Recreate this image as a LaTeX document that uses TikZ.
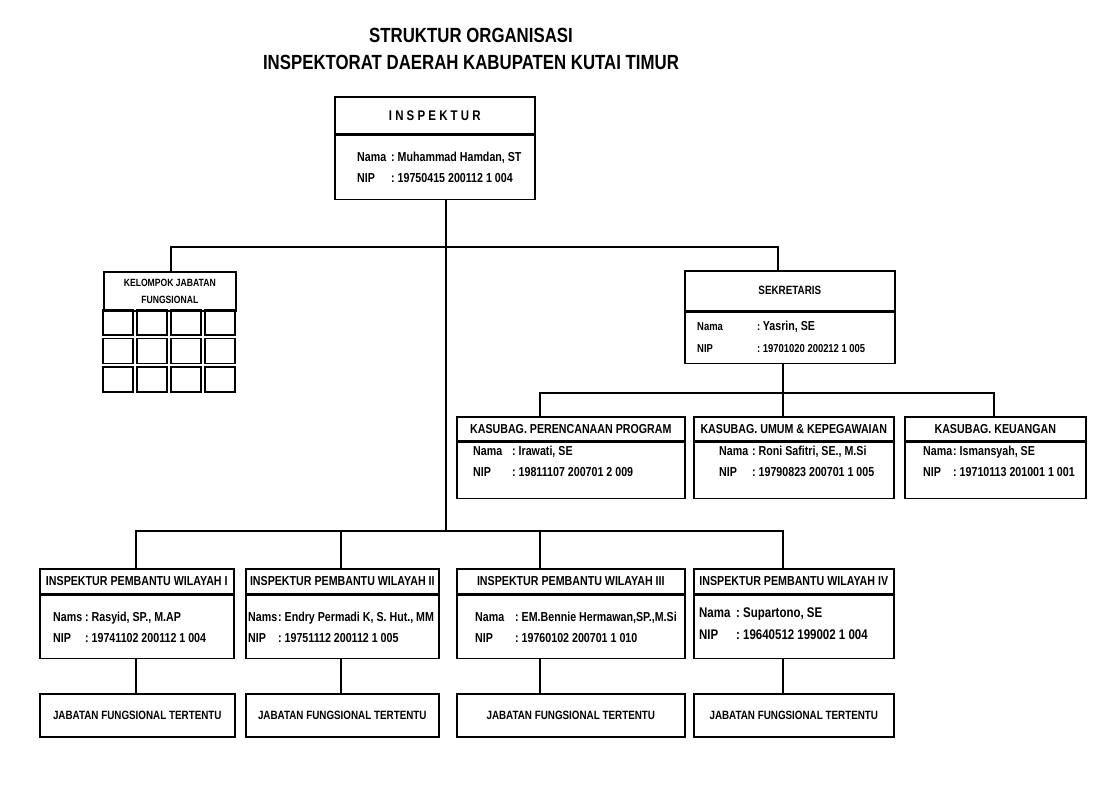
\documentclass[tikz,border=0pt]{standalone}
\usepackage{fontspec}
\setmainfont{Liberation Sans}[FakeStretch=0.82, BoldFont={Liberation Sans Bold}, BoldFeatures={FakeStretch=0.82}]
\usetikzlibrary{positioning}

% label kolom kiri (Nama / NIP) dengan titik dua
\newcommand{\lbl}[2][33pt]{\makebox[#1][l]{#2}:\ }

\begin{document}
\begin{tikzpicture}[x=1pt,y=-1pt,
  kotak/.style={draw, line width=1.6pt, inner sep=0pt, anchor=north west},
  kepala/.style={kotak, font=\bfseries\fontsize{13}{16}\selectfont},
  isi/.style={anchor=west, align=left, inner sep=0pt, font=\bfseries\fontsize{13}{21}\selectfont},
  judul/.style={font=\bfseries\fontsize{20.5}{24}\selectfont},
  garis/.style={line width=2.6pt}]
  \fill[white] (0,0) rectangle (1098,791);
  \useasboundingbox (0,0) rectangle (1098,791);

  % judul
  \node[judul] (judul1) at (471,35) {STRUKTUR ORGANISASI};
  \node[judul] (judul2) at (471,62) {INSPEKTORAT DAERAH KABUPATEN KUTAI TIMUR};

  % inspektur
  \node[kepala, minimum width=200pt, minimum height=37pt, font=\bfseries\fontsize{14}{16}\selectfont] (ins) at (334,96) {I N S P E K T U R};
  \node[kotak, minimum width=200pt, minimum height=64pt] (ins-isi) at (ins.south west) {};
  \node[isi] (ins-data) at (357,167.5) {\lbl[34pt]{Nama}Muhammad Hamdan, ST\\\lbl[34pt]{NIP}19750415 200112 1 004};

  % kelompok jabatan fungsional
  \node[kotak, minimum width=132pt, minimum height=39pt, align=center, font=\bfseries\fontsize{10.5}{17}\selectfont] (kel) at (103,271) {KELOMPOK JABATAN\\FUNGSIONAL};
  \foreach \i in {0,...,3}
    \foreach \j in {0,1,2}
      \draw[line width=1.2pt] (103+\i*34,310+\j*28.5) rectangle ++(30,25);

  % sekretaris
  \node[kepala, minimum width=210pt, minimum height=40pt, font=\bfseries\fontsize{12}{16}\selectfont] (sek) at (684,270) {SEKRETARIS};
  \node[kotak, minimum width=210pt, minimum height=51pt] (sek-isi) at (sek.south west) {};
  \node[isi, font=\bfseries\fontsize{11.5}{22}\selectfont] (sek-data) at (697,337) {\lbl[60pt]{Nama}{\fontsize{13}{22}\selectfont Yasrin, SE}\\\lbl[60pt]{NIP}19701020 200212 1 005};

  % kasubag
  \node[kepala, minimum width=228pt, minimum height=24pt] (kpp) at (456,416) {KASUBAG. PERENCANAAN PROGRAM};
  \node[kotak, minimum width=228pt, minimum height=56pt] (kpp-isi) at (kpp.south west) {};
  \node[isi] (kpp-data) at (473,461.5) {\lbl[39pt]{Nama}Irawati, SE\\\lbl[39pt]{NIP}19811107 200701 2 009};

  \node[kepala, minimum width=200pt, minimum height=24pt] (kum) at (693,416) {KASUBAG. UMUM \& KEPEGAWAIAN};
  \node[kotak, minimum width=200pt, minimum height=56pt] (kum-isi) at (kum.south west) {};
  \node[isi] (kum-data) at (719,461.5) {\lbl{Nama}Roni Safitri, SE., M.Si\\\lbl{NIP}19790823 200701 1 005};

  \node[kepala, minimum width=181pt, minimum height=24pt] (kku) at (904,416) {KASUBAG. KEUANGAN};
  \node[kotak, minimum width=181pt, minimum height=56pt] (kku-isi) at (kku.south west) {};
  \node[isi] (kku-data) at (923,461.5) {\lbl[30pt]{Nama}Ismansyah, SE\\\lbl[30pt]{NIP}19710113 201001 1 001};

  % inspektur pembantu wilayah
  \node[kepala, minimum width=194pt, minimum height=25pt] (wil1) at (39,568) {INSPEKTUR PEMBANTU WILAYAH I};
  \node[kotak, minimum width=194pt, minimum height=63pt] (wil1-isi) at (wil1.south west) {};
  \node[isi] (wil1-data) at (53,627.5) {\lbl[32pt]{Nams}Rasyid, SP., M.AP\\\lbl[32pt]{NIP}19741102 200112 1 004};

  \node[kepala, minimum width=193pt, minimum height=25pt] (wil2) at (245,568) {INSPEKTUR PEMBANTU WILAYAH II};
  \node[kotak, minimum width=193pt, minimum height=63pt] (wil2-isi) at (wil2.south west) {};
  \node[isi] (wil2-data) at (248,627.5) {\lbl[30pt]{Nams}Endry Permadi K, S. Hut., MM\\\lbl[30pt]{NIP}19751112 200112 1 005};

  \node[kepala, minimum width=228pt, minimum height=25pt] (wil3) at (456,568) {INSPEKTUR PEMBANTU WILAYAH III};
  \node[kotak, minimum width=228pt, minimum height=63pt] (wil3-isi) at (wil3.south west) {};
  \node[isi] (wil3-data) at (475,627.5) {\lbl[40pt]{Nama}EM.Bennie Hermawan,SP.,M.Si\\\lbl[40pt]{NIP}19760102 200701 1 010};

  \node[kepala, minimum width=200pt, minimum height=25pt] (wil4) at (693,568) {INSPEKTUR PEMBANTU WILAYAH IV};
  \node[kotak, minimum width=200pt, minimum height=63pt] (wil4-isi) at (wil4.south west) {};
  \node[isi, font=\bfseries\fontsize{14}{22}\selectfont] (wil4-data) at (699,624) {\lbl[37pt]{Nama}Supartono, SE\\\lbl[37pt]{NIP}19640512 199002 1 004};

  % jabatan fungsional tertentu
  \node[kepala, minimum width=195pt, minimum height=43pt, font=\bfseries\fontsize{12}{16}\selectfont] (jf1) at (39,693) {JABATAN FUNGSIONAL TERTENTU};
  \node[kepala, minimum width=193pt, minimum height=43pt, font=\bfseries\fontsize{12}{16}\selectfont] (jf2) at (245,693) {JABATAN FUNGSIONAL TERTENTU};
  \node[kepala, minimum width=228pt, minimum height=43pt, font=\bfseries\fontsize{12}{16}\selectfont] (jf3) at (456,693) {JABATAN FUNGSIONAL TERTENTU};
  \node[kepala, minimum width=200pt, minimum height=43pt, font=\bfseries\fontsize{12}{16}\selectfont] (jf4) at (693,693) {JABATAN FUNGSIONAL TERTENTU};

  % titik cabang
  \coordinate (b1) at (171,247);
  \coordinate (b2) at (778,247);
  \coordinate (c0) at (783,393);
  \coordinate (c1) at (540,393);
  \coordinate (c2) at (994,393);
  \coordinate (pusat) at (446,531);
  \coordinate (d1) at (136,531);
  \coordinate (d2) at (341,531);
  \coordinate (d3) at (540,531);
  \coordinate (d4) at (783,531);

  % garis
  \draw[garis] (ins-isi.south -| pusat) -- (pusat);
  \draw[garis] (kel.north -| b1) -- (b1) -- (b2) -- (sek.north -| b2);
  \draw[garis] (sek-isi.south -| c0) -- (kum.north -| c0);
  \draw[garis] (kpp.north -| c1) -- (c1) -- (c2) -- (kku.north -| c2);
  \draw[garis] (wil1.north -| d1) -- (d1) -- (d4) -- (wil4.north -| d4);
  \draw[garis] (d2) -- (wil2.north -| d2);
  \draw[garis] (d3) -- (wil3.north -| d3);
  \foreach \i in {1,...,4}
    \draw[garis] (wil\i-isi.south -| d\i) -- (jf\i.north -| d\i);
\end{tikzpicture}
\end{document}
